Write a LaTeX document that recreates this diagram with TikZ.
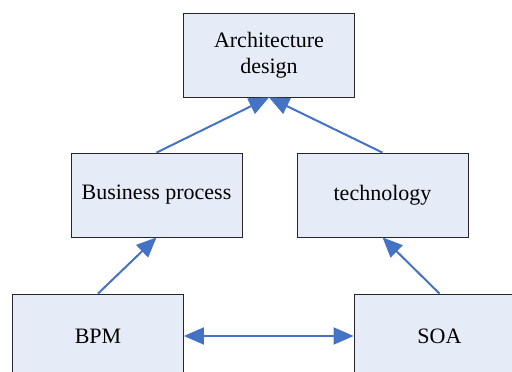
\documentclass[tikz,border=0pt]{standalone}
\usepackage{fontspec}
\setmainfont{Liberation Serif}
\usepackage{xcolor}
\usetikzlibrary{arrows.meta}
\definecolor{boxfill}{HTML}{E6ECF7}
\definecolor{arrowblue}{HTML}{4472C4}

\begin{document}
\begin{tikzpicture}[x=1pt, y=-1pt]
    \useasboundingbox (0,0) rectangle (512,372);
    \clip (0,0) rectangle (512,372);
    \begin{scope}[every node/.style={rectangle, draw=black!85, line width=0.8pt, fill=boxfill, minimum width=171pt, minimum height=84pt, align=center, inner sep=0pt, font=\fontsize{22}{26}\selectfont}]
    \node (Arch) at (269,55) {Architecture\\design};
    \node (BP) at (156.5,195) {Business process};
    \node (Tech) at (382.5,195) {technology};
    \node (BPM) at (98,336) {BPM};
    \node (SOA) at (439.5,336) {SOA};
    \end{scope}
    
    \draw[arrowblue, line width=2pt, -{Triangle[length=20pt, width=17pt]}] (BP.north)--(Arch.south);
    \draw[arrowblue, line width=2pt, -{Triangle[length=20pt, width=17pt]}] (Tech.north)--(Arch.south);
    \draw[arrowblue, line width=2pt, -{Triangle[length=20pt, width=17pt]}] (BPM.north)--(BP.south);
    \draw[arrowblue, line width=2pt, -{Triangle[length=20pt, width=17pt]}] (SOA.north)--(Tech.south);
    \draw[arrowblue, line width=2pt, {Triangle[length=20pt, width=17pt]}-{Triangle[length=20pt, width=17pt]}] (BPM.east)--(SOA.west);
\end{tikzpicture}
\end{document}
